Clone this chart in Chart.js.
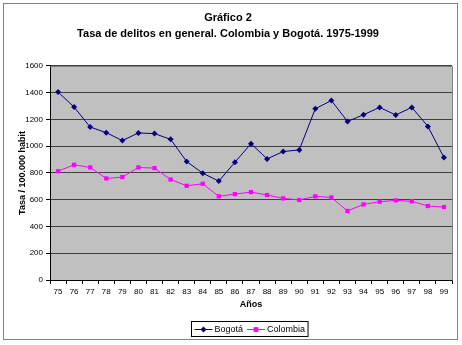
<!DOCTYPE html>
<html lang="es">
<head>
<meta charset="utf-8">
<title>Tasa de delitos en general</title>
<script src="https://cdn.jsdelivr.net/npm/chart.js@4/dist/chart.umd.min.js"></script>
<style>
  html, body { margin: 0; padding: 0; background: #fff; }
  #wrap { width: 462px; height: 345px; }
</style>
</head>
<body>
<div id="wrap"><canvas id="delitosChart" width="462" height="345"></canvas></div>
<script>
// Años (dos dígitos) y tasas por 100.000 habitantes
const years = ['75', '76', '77', '78', '79', '80', '81', '82', '83', '84', '85', '86', '87',
               '88', '89', '90', '91', '92', '93', '94', '95', '96', '97', '98', '99'];
const bogota = [1405, 1292, 1143, 1101, 1042, 1099, 1094, 1051, 885, 798, 739, 880, 1019,
                905, 960, 972, 1280, 1341, 1185, 1235, 1290, 1233, 1290, 1148, 915];
const colombia = [813, 861, 841, 759, 769, 841, 836, 751, 704, 719, 625, 642, 657,
                  635, 610, 598, 625, 617, 516, 565, 585, 595, 588, 553, 545];
const titleLines = ['Gráfico 2', 'Tasa de delitos en general. Colombia y Bogotá. 1975-1999'];

const FONT = "'Liberation Sans', Arial, sans-serif";

// gray plot background, plot border and the outer frame
const frame = {
    id: 'frame',
    beforeDraw(chart) {
        const { ctx, chartArea: a } = chart;
        ctx.save();
        ctx.fillStyle = '#fff';
        ctx.fillRect(0, 0, chart.width, chart.height);
        ctx.fillStyle = '#c0c0c0';
        ctx.fillRect(a.left, a.top, a.right - a.left, a.bottom - a.top);
        ctx.strokeStyle = '#808080';
        ctx.lineWidth = 1;
        ctx.strokeRect(3.5, 3.5, 454, 336);
        ctx.restore();
    },
    beforeDatasetsDraw(chart) {
        const { ctx, chartArea: a } = chart;
        ctx.save();
        ctx.strokeStyle = '#808080';
        ctx.beginPath();
        ctx.moveTo(Math.round(a.left) + 0.5, Math.round(a.top) + 0.5);
        ctx.lineTo(Math.round(a.right) + 0.5, Math.round(a.top) + 0.5);
        ctx.lineTo(Math.round(a.right) + 0.5, Math.round(a.bottom) + 0.5);
        ctx.stroke();
        ctx.restore();
    }
};

function drawMarker(ctx, style, x, y, r, color) {
    ctx.fillStyle = color;
    ctx.beginPath();
    if (style === 'rectRot') {
        ctx.moveTo(x, y - r);
        ctx.lineTo(x + r, y);
        ctx.lineTo(x, y + r);
        ctx.lineTo(x - r, y);
        ctx.closePath();
    } else {
        ctx.rect(x - r * 0.8, y - r * 0.8, r * 1.6, r * 1.6);
    }
    ctx.fill();
}

// Excel-style boxed legend: line sample + marker + label
const boxLegend = {
    id: 'boxLegend',
    afterDraw(chart) {
        const { ctx } = chart;
        const sets = chart.data.datasets;
        const lineLen = 18, gap = 2, itemGap = 4, padX = 3;
        ctx.save();
        ctx.font = '9px ' + FONT;
        let total = padX * 2;
        sets.forEach((ds, i) => {
            total += lineLen + gap + ctx.measureText(ds.label).width + (i ? itemGap : 0);
        });
        const h = 15, top = 321.5, left = 191.5;
        ctx.fillStyle = '#fff';
        ctx.fillRect(left, top, total, h);
        ctx.strokeStyle = '#000';
        ctx.lineWidth = 1;
        ctx.strokeRect(left, top, total, h);
        let x = left + padX;
        const cy = top + h / 2;
        sets.forEach((ds, i) => {
            if (i) x += itemGap;
            ctx.strokeStyle = ds.borderColor;
            ctx.beginPath();
            ctx.moveTo(x, Math.round(cy) + 0.5);
            ctx.lineTo(x + lineLen, Math.round(cy) + 0.5);
            ctx.stroke();
            drawMarker(ctx, ds.pointStyle, x + lineLen / 2, Math.round(cy) + 0.5, 3, ds.pointBackgroundColor);
            x += lineLen + gap;
            ctx.fillStyle = '#000';
            ctx.textBaseline = 'middle';
            ctx.fillText(ds.label, x, cy + 0.5);
            x += ctx.measureText(ds.label).width;
        });
        ctx.restore();
    }
};

const ctx = document.getElementById('delitosChart').getContext('2d');
const chart = new Chart(ctx, {
    type: 'line',
    data: {
        labels: years,
        datasets: [{
            label: 'Bogotá',
            data: bogota,
            borderColor: '#000080',
            backgroundColor: '#000080',
            pointBackgroundColor: '#000080',
            pointBorderColor: '#000080',
            borderWidth: 1,
            pointStyle: 'rectRot',
            pointRadius: 3,
            pointBorderWidth: 0,
            tension: 0
        }, {
            label: 'Colombia',
            data: colombia,
            borderColor: '#ff00ff',
            backgroundColor: '#ff00ff',
            pointBackgroundColor: '#ff00ff',
            pointBorderColor: '#ff00ff',
            borderWidth: 1,
            pointStyle: 'rect',
            pointRadius: 3,
            pointBorderWidth: 0,
            tension: 0
        }]
    },
    options: {
        responsive: false,
        animation: false,
        devicePixelRatio: 1,
        layout: { padding: { top: 0, left: 4, right: 10, bottom: 33 } },
        plugins: {
            legend: { display: false },
            tooltip: { enabled: false },
            title: {
                display: true,
                text: titleLines,
                color: '#000',
                font: { family: FONT, size: 11, weight: 'bold', lineHeight: 1.45 },
                padding: { top: 10, bottom: 24 }
            }
        },
        scales: {
            x: {
                offset: true,
                afterFit(scale) { scale.height = 32; },
                grid: {
                    offset: true,
                    drawOnChartArea: false,
                    tickLength: 4,
                    tickColor: '#000'
                },
                border: { color: '#000' },
                ticks: {
                    color: '#000',
                    padding: 3,
                    maxRotation: 0,
                    autoSkip: false,
                    font: { family: FONT, size: 8 }
                },
                title: {
                    display: true,
                    text: 'Años',
                    color: '#000',
                    font: { family: FONT, size: 9, weight: 'bold', lineHeight: 1.2 },
                    padding: { top: 0, bottom: 2 }
                }
            },
            y: {
                min: 0,
                max: 1600,
                afterFit(scale) { scale.width = 46; },
                grid: {
                    color: '#404040',
                    tickLength: 4,
                    tickColor: '#000'
                },
                border: { color: '#000' },
                ticks: {
                    stepSize: 200,
                    color: '#000',
                    padding: 3,
                    font: { family: FONT, size: 8 },
                    callback: (value) => String(value)
                },
                title: {
                    display: true,
                    text: 'Tasa / 100.000 habit',
                    color: '#000',
                    font: { family: FONT, size: 9, weight: 'bold', lineHeight: 1.2 },
                    padding: { top: 13, bottom: 0 }
                }
            }
        }
    },
    plugins: [frame, boxLegend]
});
</script>
</body>
</html>
